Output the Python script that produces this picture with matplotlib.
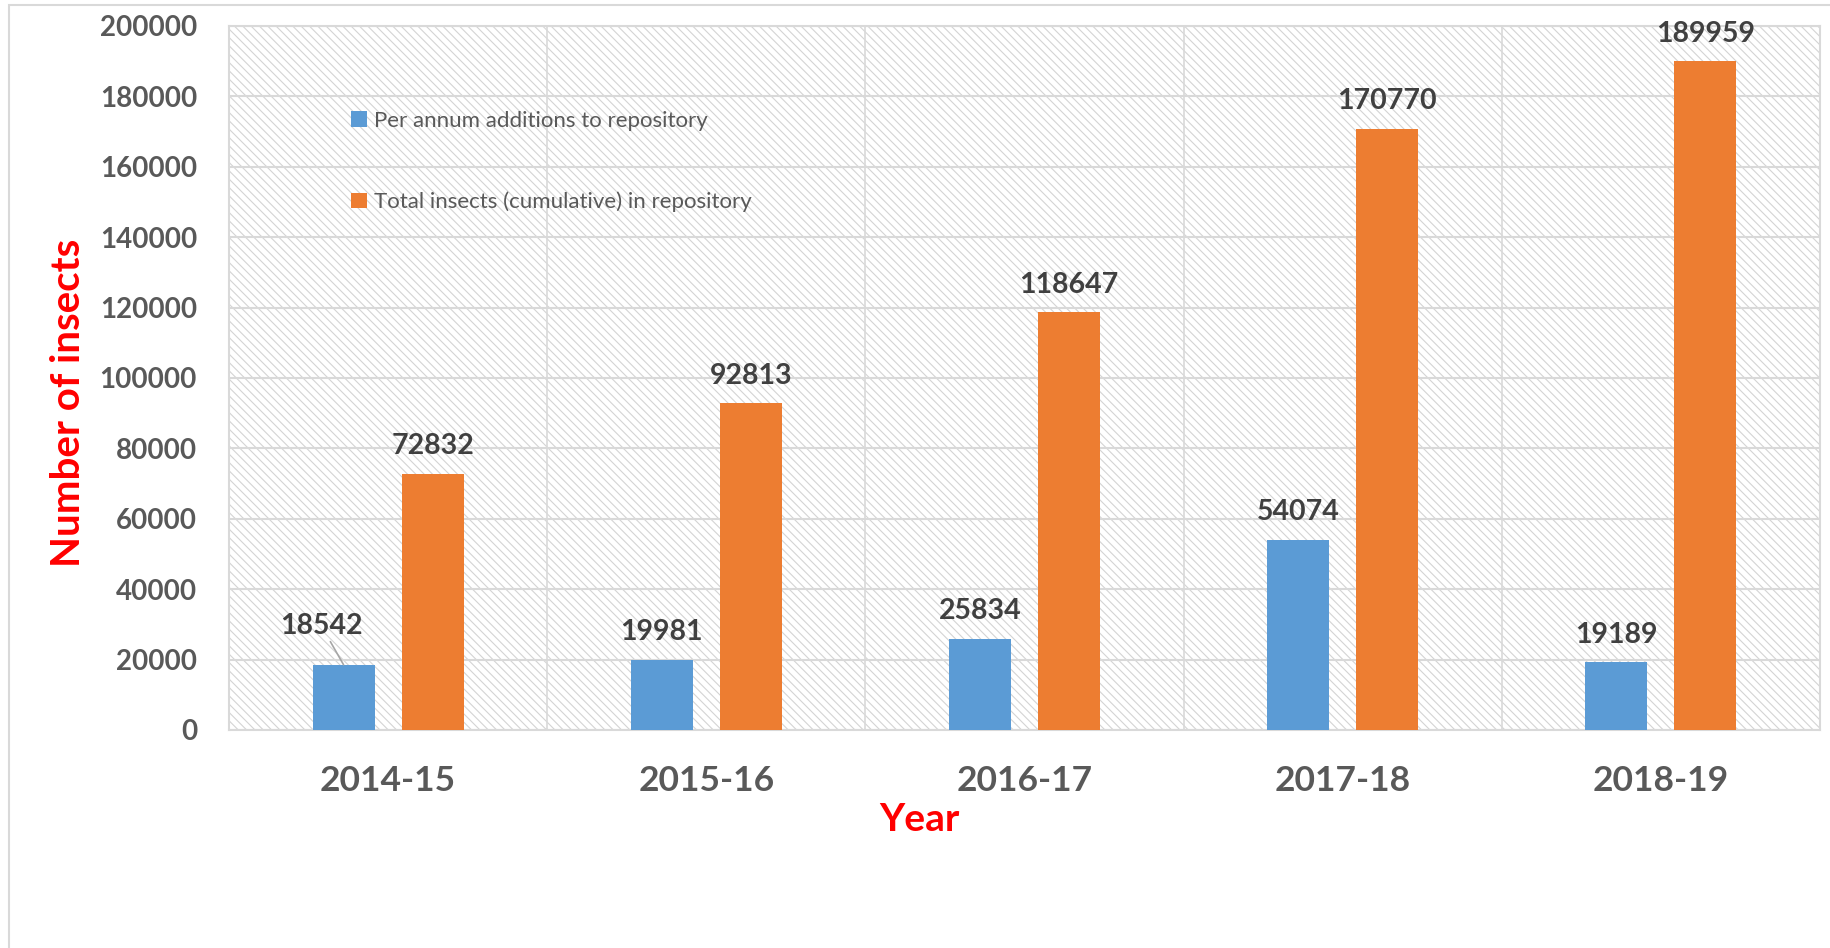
import numpy as np
import matplotlib
matplotlib.use("Agg")
from matplotlib import pyplot as plt
from matplotlib.patches import Rectangle

years = ["2014-15", "2015-16", "2016-17", "2017-18", "2018-19"]
per_annum = [18542, 19981, 25834, 54074, 19189]
cumulative = [72832, 92813, 118647, 170770, 189959]
series_names = ["Per annum additions to repository",
                "Total insects (cumulative) in repository"]

BLUE = "#5B9BD5"
ORANGE = "#ED7D31"
GRID = "#d9d9d9"
TEXT = "#595959"
LABEL = "#404040"

plt.rcParams["font.family"] = ["Lato", "DejaVu Sans"]
plt.rcParams["hatch.linewidth"] = 0.8

fig = plt.figure(figsize=(18.31, 9.48), dpi=100)
# outer chart frame
fig.patches.append(Rectangle((9 / 1831, -0.05), 1.0, 1.05 - 5 / 948,
                             transform=fig.transFigure, fill=False,
                             edgecolor=GRID, linewidth=1.5))

ax = fig.add_axes([229 / 1831, 218 / 948, 1591 / 1831, 704 / 948])
ax.set_facecolor("white")
ax.add_patch(Rectangle((0, 0), 1, 1, transform=ax.transAxes, facecolor="white",
                       edgecolor="#d4d4d4", hatch="\\\\\\\\", linewidth=0, zorder=0))

x = np.arange(len(years))
w = 0.195
off = 0.14
b1 = ax.bar(x - off, per_annum, w, color=BLUE, zorder=3, label=series_names[0])
b2 = ax.bar(x + off, cumulative, w, color=ORANGE, zorder=3, label=series_names[1])

ax.set_xlim(-0.5, len(years) - 0.5)
ax.set_ylim(0, 200000)
ax.set_yticks(np.arange(0, 200001, 20000))
ax.set_xticks(x)
ax.set_xticklabels(years)
ax.tick_params(axis="y", length=0, pad=23, labelsize=20, labelcolor=TEXT)
ax.tick_params(axis="x", length=0, pad=25, labelsize=25.5, labelcolor=TEXT)
for t in ax.get_xticklabels() + ax.get_yticklabels():
    t.set_fontweight("bold")

ax.set_axisbelow(True)
ax.grid(axis="y", color=GRID, linewidth=1.5, zorder=1)
ax.set_xticks(np.arange(0.5, len(years) - 0.5), minor=True)
ax.tick_params(axis="x", which="minor", length=0)
ax.grid(axis="x", which="minor", color=GRID, linewidth=1.2, zorder=1)
for s in ax.spines.values():
    s.set_color(GRID)
    s.set_linewidth(1.5)

ax.set_ylabel("Number of insects", color="red", fontsize=29, fontweight="bold")
ax.yaxis.set_label_coords(-0.089, 0.464)
ax.set_xlabel("Year", color="red", fontsize=28, fontweight="bold")
ax.xaxis.set_label_coords(0.434, -0.102)

# value labels
for bars in (b1, b2):
    for i, r in enumerate(bars):
        cx = r.get_x() + r.get_width() / 2
        h = r.get_height()
        if bars is b1 and i == 0:
            ax.annotate(f"{h}", xy=(cx, h), xytext=(-16, 28),
                        textcoords="offset points", ha="center", va="center",
                        fontsize=20.5, fontweight="bold", color=LABEL,
                        arrowprops=dict(arrowstyle="-", color="#a6a6a6", lw=1.2,
                                        shrinkA=0, shrinkB=0))
        else:
            ax.annotate(f"{h}", xy=(cx, h), xytext=(0, 20),
                        textcoords="offset points", ha="center", va="center",
                        fontsize=20.5, fontweight="bold", color=LABEL)

leg = ax.legend(loc="upper left", bbox_to_anchor=(0.07, 0.895), frameon=False,
                fontsize=16, labelcolor=TEXT, handlelength=0.7, handleheight=0.7,
                handletextpad=0.3, labelspacing=2.72, borderpad=0)

fig.savefig("out.png", dpi=100)
